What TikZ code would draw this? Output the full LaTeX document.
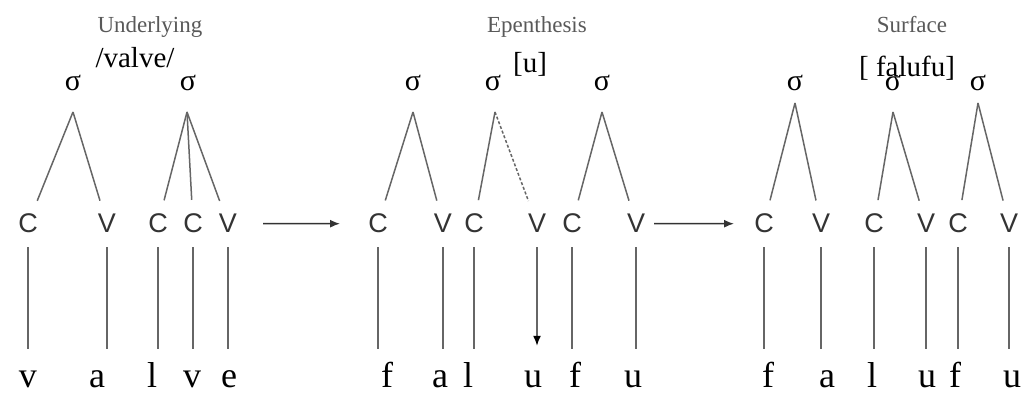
\documentclass[tikz,border=0pt]{standalone}
\usepackage{fontspec}
\setmainfont{Liberation Serif}
\newfontfamily\cvfont{Liberation Sans}
\usetikzlibrary{calc, arrows.meta}

\begin{document}
\begin{tikzpicture}[x=1pt, y=1pt,
			stage/.style={font=\fontsize{23}{25}\selectfont, text=black!65, anchor=base, inner sep=1pt},
			form/.style={font=\fontsize{29}{31}\selectfont, anchor=base, inner sep=1pt},
			sig/.style={font=\fontsize{30}{32}\selectfont, anchor=base, inner sep=1pt},
			cv/.style={font=\cvfont\fontsize{27}{29}\selectfont, text=black!80, anchor=base, inner sep=2pt},
			seg/.style={font=\fontsize{36}{40}\selectfont, anchor=base, inner sep=2pt,
				text height=26pt, text depth=0pt},
			branch/.style={draw=black!60, line width=1.5pt, shorten >=12pt},
			assoc/.style={draw=black!60, line width=1.5pt, shorten <=12pt, shorten >=11pt},
			arrow/.style={-{Latex[length=10pt, width=8pt]}, line width=1.5pt, black!80}
			]
			\useasboundingbox (0,0) rectangle (1029,396);
			
			% underlying form
			\node[stage] (lab1) at (150,363) {Underlying};
			\node[form] (ur) at (135,328) {/valve/};
			
			\node[sig] (s1) at (73,305) {σ};
			\node[sig] (s2) at (188,305) {σ};
			\coordinate (t1) at (73,284);
			\coordinate (t2) at (187,284);
			
			\node[cv] (c1) at (28,163) {C};
			\node[cv] (c2) at (107,163) {V};
			\node[cv] (c3) at (158,163) {C};
			\node[cv] (c4) at (193,163) {C};
			\node[cv] (c5) at (228,163) {V};
			
			\node[seg] (x1) at (28,8) {v};
			\node[seg] (x2) at (97,8) {a};
			\node[seg] (x3) at (152,8) {l};
			\node[seg] (x4) at (192,8) {v};
			\node[seg] (x5) at (229,8) {e};
			
			\draw[branch] (t1) -- (c1);
			\draw[branch] (t1) -- (c2);
			\draw[branch] (t2) -- (c3);
			\draw[branch] (t2) -- (c4);
			\draw[branch] (t2) -- (c5);
			
			\draw[assoc] (c1) -- (c1 |- x1.north);
			\draw[assoc] (c2) -- (c2 |- x2.north);
			\draw[assoc] (c3) -- (c3 |- x3.north);
			\draw[assoc] (c4) -- (c4 |- x4.north);
			\draw[assoc] (c5) -- (c5 |- x5.north);
			
			% epenthesis
			\node[stage] (lab2) at (537,363) {Epenthesis};
			\node[form] (ep) at (530,323) {[u]};
			
			\node[sig] (s3) at (413,305) {σ};
			\node[sig] (s4) at (493,305) {σ};
			\node[sig] (s5) at (602,305) {σ};
			\coordinate (t3) at (413,284);
			\coordinate (t4) at (495,284);
			\coordinate (t5) at (602,284);
			
			\node[cv] (c6) at (378,163) {C};
			\node[cv] (c7) at (443,163) {V};
			\node[cv] (c8) at (474,163) {C};
			\node[cv] (c9) at (537,163) {V};
			\node[cv] (c10) at (572,163) {C};
			\node[cv] (c11) at (636,163) {V};
			
			\node[seg] (x6) at (387,8) {f};
			\node[seg] (x7) at (440,8) {a};
			\node[seg] (x8) at (468,8) {l};
			\node[seg] (x9) at (533,8) {u};
			\node[seg] (x10) at (575,8) {f};
			\node[seg] (x11) at (633,8) {u};
			
			\draw[branch] (t3) -- (c6);
			\draw[branch] (t3) -- (c7);
			\draw[branch] (t4) -- (c8);
			\draw[branch, dash pattern=on 3pt off 2pt] (t4) -- (c9);
			\draw[branch] (t5) -- (c10);
			\draw[branch] (t5) -- (c11);
			
			\draw[assoc] (c6) -- (c6 |- x6.north);
			\draw[assoc] (c7) -- (c7 |- x7.north);
			\draw[assoc] (c8) -- (c8 |- x8.north);
			\draw[assoc, -{Latex[length=10pt, width=8pt]}, arrows={[black]}, shorten >=14pt] (c9) -- (c9 |- x9.north);
			\draw[assoc] (c10) -- (c10 |- x10.north);
			\draw[assoc] (c11) -- (c11 |- x11.north);
			
			% surface form
			\node[stage] (lab3) at (912,363) {Surface};
			\node[form] (sr) at (907,319) {[ falufu]};
			
			\node[sig] (s6) at (795,305) {σ};
			\node[sig] (s7) at (893,305) {σ};
			\node[sig] (s8) at (978,305) {σ};
			\coordinate (t6) at (795,293);
			\coordinate (t7) at (893,284);
			\coordinate (t8) at (978,293);
			
			\node[cv] (c12) at (764,163) {C};
			\node[cv] (c13) at (821,163) {V};
			\node[cv] (c14) at (874,163) {C};
			\node[cv] (c15) at (926,163) {V};
			\node[cv] (c16) at (958,163) {C};
			\node[cv] (c17) at (1009,163) {V};
			
			\node[seg] (x12) at (768,8) {f};
			\node[seg] (x13) at (827,8) {a};
			\node[seg] (x14) at (872,8) {l};
			\node[seg] (x15) at (927,8) {u};
			\node[seg] (x16) at (955,8) {f};
			\node[seg] (x17) at (1012,8) {u};
			
			\draw[branch] (t6) -- (c12);
			\draw[branch] (t6) -- (c13);
			\draw[branch] (t7) -- (c14);
			\draw[branch] (t7) -- (c15);
			\draw[branch] (t8) -- (c16);
			\draw[branch] (t8) -- (c17);
			
			\draw[assoc] (c12) -- (c12 |- x12.north);
			\draw[assoc] (c13) -- (c13 |- x13.north);
			\draw[assoc] (c14) -- (c14 |- x14.north);
			\draw[assoc] (c15) -- (c15 |- x15.north);
			\draw[assoc] (c16) -- (c16 |- x16.north);
			\draw[assoc] (c17) -- (c17 |- x17.north);
			
			% derivation steps
			\draw[arrow, shorten <=24pt, shorten >=26pt] (c5.east) -- (c6.west);
			\draw[arrow, shorten <=7pt, shorten >=18pt] (c11.east) -- (c12.west);
			
		\end{tikzpicture}
\end{document}
